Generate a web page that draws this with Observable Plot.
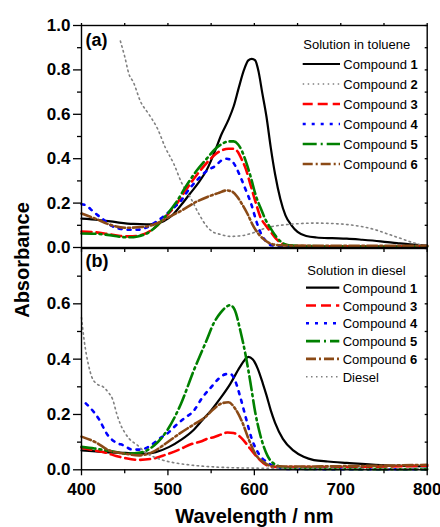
<!DOCTYPE html>
<html>
<head>
<meta charset="utf-8">
<script src="https://cdn.jsdelivr.net/npm/d3@7"></script>
<script src="https://cdn.jsdelivr.net/npm/@observablehq/plot@0.6"></script>
<style>
  html, body { margin: 0; padding: 0; background: white; }
  #wrap { position: relative; width: 440px; height: 527px; overflow: hidden; }
  #wrap svg { position: absolute; left: 0; top: 0; }
</style>
</head>
<body>
<div id="wrap"></div>
<script>
// ---------- data: [wavelength (nm), absorbance] ----------
// Panel (a): solution in toluene
const tolC1 = [[400,0.13],[420,0.124],[440,0.114],[460,0.106],[475,0.104],[485,0.107],[495,0.118],[505,0.145],[515,0.19],[525,0.24],[535,0.29],[545,0.35],[555,0.44],[562,0.51],[570,0.575],[576,0.635],[582,0.72],[588,0.80],[593,0.843],[597,0.85],[601,0.843],[605,0.79],[609,0.70],[614,0.59],[619,0.45],[624,0.33],[630,0.22],[636,0.145],[643,0.10],[650,0.07],[660,0.052],[672,0.045],[690,0.042],[707,0.04],[725,0.035],[746,0.028],[765,0.02],[780,0.014],[800,0.008]];
const tolC2 = [[445,0.93],[450,0.86],[455,0.78],[460,0.745],[468,0.66],[478,0.60],[488,0.535],[497,0.45],[507,0.375],[516,0.29],[526,0.225],[536,0.15],[545,0.095],[552,0.07],[560,0.06],[572,0.05],[585,0.053],[600,0.068],[615,0.09],[630,0.10],[650,0.107],[670,0.11],[690,0.108],[715,0.10],[740,0.08],[755,0.06],[770,0.04],[785,0.02],[800,0.005]];
const tolC3 = [[400,0.072],[415,0.069],[430,0.061],[445,0.052],[455,0.05],[465,0.053],[475,0.065],[485,0.09],[497,0.137],[509,0.19],[520,0.255],[532,0.32],[547,0.39],[555,0.42],[562,0.437],[570,0.445],[576,0.445],[581,0.43],[585,0.40],[590,0.355],[595,0.29],[601,0.21],[607,0.137],[613,0.10],[619,0.07],[625,0.04],[631,0.02],[640,0.009],[660,0.006],[800,0.005]];
const tolC4 = [[400,0.195],[405,0.19],[414,0.16],[424,0.13],[435,0.097],[445,0.084],[455,0.08],[465,0.08],[475,0.09],[484,0.11],[493,0.134],[505,0.173],[515,0.21],[524,0.26],[534,0.305],[545,0.345],[555,0.368],[563,0.395],[568,0.40],[574,0.39],[579,0.36],[584,0.317],[590,0.26],[596,0.2],[603,0.11],[608,0.06],[613,0.03],[620,0.01],[640,0.004],[800,0.003]];
const tolC5 = [[400,0.063],[415,0.062],[430,0.057],[445,0.048],[455,0.046],[465,0.05],[475,0.062],[485,0.09],[497,0.14],[509,0.2],[520,0.27],[532,0.34],[547,0.41],[555,0.445],[562,0.465],[570,0.478],[576,0.478],[581,0.465],[585,0.44],[590,0.39],[596,0.315],[602,0.23],[607,0.18],[613,0.125],[619,0.085],[625,0.05],[631,0.025],[640,0.01],[660,0.006],[800,0.004]];
const tolC6 = [[400,0.153],[416,0.13],[432,0.104],[451,0.089],[470,0.092],[486,0.107],[501,0.137],[516,0.167],[532,0.204],[547,0.23],[558,0.245],[568,0.257],[575,0.25],[580,0.23],[585,0.2],[592,0.152],[599,0.095],[605,0.06],[610,0.04],[619,0.017],[630,0.01],[650,0.008],[800,0.008]];

// Panel (b): solution in diesel
const dieC1 = [[400,0.07],[428,0.064],[451,0.061],[474,0.058],[486,0.064],[501,0.082],[516,0.11],[530,0.145],[540,0.18],[550,0.215],[561,0.26],[572,0.31],[583,0.37],[589,0.398],[593,0.408],[598,0.40],[604,0.365],[610,0.31],[614,0.27],[619,0.215],[624,0.17],[633,0.112],[645,0.07],[657,0.047],[669,0.035],[685,0.03],[707,0.025],[746,0.017],[800,0.012]];
const dieC3 = [[400,0.08],[415,0.07],[428,0.062],[440,0.05],[451,0.042],[466,0.036],[482,0.04],[497,0.054],[513,0.073],[528,0.094],[538,0.102],[547,0.114],[553,0.118],[562,0.128],[569,0.135],[576,0.133],[586,0.112],[595,0.077],[605,0.04],[615,0.016],[625,0.01],[700,0.01],[800,0.015]];
const dieC4 = [[405,0.24],[414,0.21],[420,0.184],[430,0.127],[439,0.10],[449,0.088],[459,0.073],[468,0.073],[480,0.088],[490,0.112],[499,0.13],[509,0.16],[518,0.184],[530,0.214],[540,0.262],[549,0.295],[559,0.33],[566,0.345],[572,0.347],[578,0.32],[584,0.26],[590,0.19],[597,0.112],[605,0.058],[615,0.027],[626,0.01],[640,0.003],[800,0.002]];
const dieC5 = [[400,0.083],[415,0.077],[430,0.07],[453,0.058],[468,0.062],[484,0.088],[499,0.142],[515,0.238],[530,0.36],[545,0.47],[553,0.53],[561,0.568],[568,0.59],[572,0.595],[577,0.58],[584,0.50],[590,0.413],[596,0.305],[601,0.208],[607,0.124],[615,0.052],[626,0.016],[640,0.004],[800,0.002]];
const dieC6 = [[400,0.12],[416,0.1],[432,0.07],[451,0.058],[466,0.052],[482,0.064],[497,0.094],[513,0.13],[528,0.16],[543,0.19],[553,0.22],[562,0.24],[570,0.244],[578,0.22],[586,0.172],[594,0.106],[601,0.058],[611,0.027],[621,0.013],[650,0.012],[700,0.013],[800,0.018]];
const diesel = [[400,0.55],[403,0.47],[408,0.38],[412,0.335],[418,0.31],[425,0.30],[431,0.28],[436,0.255],[441,0.2],[445,0.165],[450,0.135],[455,0.113],[465,0.088],[475,0.06],[485,0.045],[495,0.034],[510,0.024],[530,0.016],[550,0.011],[600,0.006],[700,0.004],[800,0.003]];

// tick values and labels
const xMajor = [400, 500, 600, 700, 800];
const xMinor = [450, 550, 650, 750];
const xAll = [400, 450, 500, 550, 600, 650, 700, 750, 800];
const yMajorA = [0, 0.2, 0.4, 0.6, 0.8, 1.0];
const yMinorA = [0.1, 0.3, 0.5, 0.7, 0.9];
const yMajorB = [0, 0.2, 0.4, 0.6];
const yMinorB = [0.1, 0.3, 0.5, 0.7];
const yAllA = [0,0.1,0.2,0.3,0.4,0.5,0.6,0.7,0.8,0.9,1.0];
const yAllB = [0,0.1,0.2,0.3,0.4,0.5,0.6,0.7,0.8];
const panelLabels = ["(a)", "(b)"];
const axisTitles = {x: "Wavelength / nm", y: "Absorbance"};
const legendTitles = ["Solution in toluene", "Solution in diesel"];
const seriesA = [
  {name: "Compound ", num: "1", data: tolC1, style: "c1"},
  {name: "Compound ", num: "2", data: tolC2, style: "grey"},
  {name: "Compound ", num: "3", data: tolC3, style: "c3"},
  {name: "Compound ", num: "4", data: tolC4, style: "c4"},
  {name: "Compound ", num: "5", data: tolC5, style: "c5"},
  {name: "Compound ", num: "6", data: tolC6, style: "c6"}
];
const seriesB = [
  {name: "Compound ", num: "1", data: dieC1, style: "c1"},
  {name: "Compound ", num: "3", data: dieC3, style: "c3"},
  {name: "Compound ", num: "4", data: dieC4, style: "c4"},
  {name: "Compound ", num: "5", data: dieC5, style: "c5"},
  {name: "Compound ", num: "6", data: dieC6, style: "c6"},
  {name: "Diesel", num: "", data: diesel, style: "grey"}
];

// ---------- styles ----------
const styles = {
  c1:   {stroke: "#000000", strokeWidth: 2.2, strokeDasharray: null},
  grey: {stroke: "#808080", strokeWidth: 1.6, strokeDasharray: "1.5,3.5"},
  c3:   {stroke: "#ff0000", strokeWidth: 2.6, strokeDasharray: "10,5"},
  c4:   {stroke: "#0000ff", strokeWidth: 2.6, strokeDasharray: "3,6"},
  c5:   {stroke: "#008000", strokeWidth: 2.6, strokeDasharray: "14,4,2,4"},
  c6:   {stroke: "#8b4a16", strokeWidth: 2.6, strokeDasharray: "10,3,2,3"}
};
const FONT = "'Liberation Sans', Arial, Helvetica, sans-serif";
const W = 440, H = 527;
const frameL = 81, frameR = 426.7;
const aTop = 25, aBot = 247, bTop = 248, bBot = 469.3;

function lineMarks(series) {
  return series.map(s => Plot.line(s.data, {
    x: d => d[0], y: d => d[1], curve: "monotone-x",
    ...Object.fromEntries(Object.entries(styles[s.style]).filter(([k, v]) => v != null))
  }));
}

const common = {
  width: W, height: H,
  marginLeft: frameL, marginRight: W - frameR,
  x: {domain: [400, 800]},
};
const tickStyle = {stroke: "black", strokeWidth: 1.3, label: null};
const labelFont = {fontSize: 17, fontWeight: "bold", fontFamily: FONT, fill: "black"};

const plotA = Plot.plot({
  ...common,
  marginTop: aTop, marginBottom: H - aBot,
  y: {domain: [0, 1]},
  style: {fontFamily: FONT, background: "white", color: "black"},
  marks: [
    ...lineMarks(seriesA),
    Plot.frame({stroke: "black", strokeWidth: 1.4}),
    Plot.axisY({...tickStyle, ...labelFont, ticks: yMajorA, tickSize: 8, tickPadding: 3, tickFormat: d3.format(".1f")}),
    Plot.axisY({...tickStyle, ticks: yMinorA, tickSize: 4, fill: "none"}),
    Plot.axisY({...tickStyle, anchor: "right", ticks: yAllA, tickSize: -3, fill: "none"}),
    Plot.axisX({...tickStyle, anchor: "bottom", ticks: xAll, tickSize: 5, fill: "none"}),
    Plot.axisX({...tickStyle, anchor: "top", ticks: xAll, tickSize: 3, fill: "none"}),
    Plot.text([panelLabels[0]], {text: d => d, frameAnchor: "top-left", dx: 4, dy: 8, lineAnchor: "top", textAnchor: "start", fontSize: 18, fontWeight: "bold", fill: "black"})
  ]
});

const plotB = Plot.plot({
  ...common,
  marginTop: bTop, marginBottom: H - bBot,
  y: {domain: [0, 0.8]},
  style: {fontFamily: FONT, background: "transparent", color: "black"},
  marks: [
    ...lineMarks(seriesB),
    Plot.frame({stroke: "black", strokeWidth: 1.4}),
    Plot.axisY({...tickStyle, ...labelFont, ticks: yMajorB, tickSize: 8, tickPadding: 3, tickFormat: d3.format(".1f")}),
    Plot.axisY({...tickStyle, ticks: yMinorB, tickSize: 4, fill: "none"}),
    Plot.axisY({...tickStyle, anchor: "right", ticks: yAllB, tickSize: -3, fill: "none"}),
    Plot.axisX({...tickStyle, ...labelFont, anchor: "bottom", ticks: xMajor, tickSize: 6, tickPadding: 7, tickFormat: d => String(d)}),
    Plot.axisX({...tickStyle, anchor: "bottom", ticks: xMinor, tickSize: 4, fill: "none"}),
    Plot.text([panelLabels[1]], {text: d => d, frameAnchor: "top-left", dx: 4, dy: 5.5, lineAnchor: "top", textAnchor: "start", fontSize: 18, fontWeight: "bold", fill: "black"}),
    Plot.text([axisTitles.y], {text: d => d, frameAnchor: "top-left", dx: 28 - frameL, dy: 259.5 - bTop, rotate: -90, lineAnchor: "bottom", textAnchor: "middle", fontSize: 20, fontWeight: "bold", fill: "black"}),
    Plot.text([axisTitles.x], {text: d => d, frameAnchor: "bottom", dy: 522 - bBot, lineAnchor: "bottom", textAnchor: "middle", fontSize: 20, fontWeight: "bold", fill: "black"})
  ]
});

const wrap = document.getElementById("wrap");
wrap.appendChild(plotA);
wrap.appendChild(plotB);

// ---------- legends ----------
const legend = d3.create("svg").attr("width", W).attr("height", H)
  .style("font-family", FONT).style("pointer-events", "none");
function drawLegend(title, series, titleX, titleY, lineX0, lineX1, textX, rowY0, rowStep) {
  legend.append("text").attr("x", titleX).attr("y", titleY).attr("dominant-baseline", "central")
    .attr("font-size", 13).attr("fill", "black").text(title);
  series.forEach((s, i) => {
    const y = rowY0 + i * rowStep;
    const st = styles[s.style];
    const ln = legend.append("line").attr("x1", lineX0).attr("x2", lineX1).attr("y1", y).attr("y2", y)
      .attr("stroke", st.stroke).attr("stroke-width", st.strokeWidth);
    if (st.strokeDasharray) ln.attr("stroke-dasharray", st.strokeDasharray);
    const t = legend.append("text").attr("x", textX).attr("y", y).attr("dominant-baseline", "central")
      .attr("font-size", 13).attr("fill", "black");
    t.append("tspan").text(s.name);
    if (s.num) t.append("tspan").attr("font-weight", "bold").text(s.num);
  });
}
drawLegend(legendTitles[0], seriesA, 303.3, 44.3, 302.7, 340, 343.3, 64, 20);
drawLegend(legendTitles[1], seriesB, 307.3, 270, 306, 339.3, 342.7, 287.7, 17.8);
wrap.appendChild(legend.node());
</script>
</body>
</html>
